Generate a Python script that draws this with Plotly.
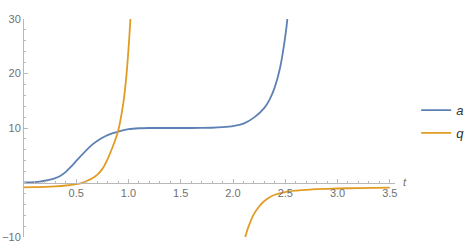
import plotly.graph_objects as go

# ---- data ----
t_a = [0.0, 0.1, 0.15, 0.2, 0.25, 0.3, 0.35, 0.4, 0.45, 0.5, 0.55, 0.6, 0.65, 0.7, 0.75,
       0.8, 0.85, 0.9, 1.0, 1.1, 1.2, 1.4, 1.6, 1.8, 1.9, 2.0, 2.1, 2.2, 2.3, 2.35, 2.4,
       2.45, 2.5, 2.52, 2.535]
a_vals = [0.0, 0.08, 0.17, 0.32, 0.52, 0.8, 1.25, 1.95, 2.9, 3.95, 5.0, 6.0, 6.9, 7.6,
          8.2, 8.7, 9.05, 9.35, 9.78, 9.95, 10.0, 10.0, 10.0, 10.05, 10.15, 10.35, 10.8,
          11.9, 13.7, 15.2, 17.5, 21.0, 26.8, 30.0, 34.0]

t_q1 = [0.0, 0.1, 0.2, 0.3, 0.4, 0.5, 0.55, 0.6, 0.65, 0.7, 0.75, 0.8, 0.85, 0.9,
        0.95, 0.98, 1.0, 1.02, 1.03]
q_vals1 = [-0.9, -0.86, -0.8, -0.7, -0.55, -0.3, -0.1, 0.28, 0.75, 1.4, 2.5, 4.3, 6.6,
           9.4, 14.5, 19.6, 24.5, 30.5, 34.0]

t_q2 = [2.105, 2.12, 2.15, 2.2, 2.25, 2.3, 2.35, 2.4, 2.5, 2.6, 2.7, 2.8, 3.0, 3.2, 3.5]
q_vals2 = [-11.0, -9.8, -8.0, -5.8, -4.4, -3.4, -2.7, -2.25, -1.75, -1.5, -1.35, -1.22,
           -1.1, -1.02, -0.95]

x_ticks = [0.5, 1.0, 1.5, 2.0, 2.5, 3.0, 3.5]
x_tick_labels = ["0.5", "1.0", "1.5", "2.0", "2.5", "3.0", "3.5"]
y_ticks = [-10, 10, 20, 30]
y_tick_labels = ["\u221210", "10", "20", "30"]

BLUE = "#5E81B5"
ORANGE = "#E19C24"
AXIS = "#b8b8b8"
LABEL = "#707070"
FONT = "Liberation Sans"

fig = go.Figure()
fig.add_trace(go.Scatter(x=t_a, y=a_vals, mode="lines", name="<i>a</i>",
                         line=dict(color=BLUE, width=1.8, shape="spline", smoothing=0.5),
                         legendgroup="a"))
fig.add_trace(go.Scatter(x=t_q1 + [None] + t_q2, y=q_vals1 + [None] + q_vals2,
                         mode="lines", name="<i>q</i>", connectgaps=False,
                         line=dict(color=ORANGE, width=1.8, shape="spline", smoothing=0.5),
                         legendgroup="q"))

fig.update_layout(
    width=469, height=245,
    margin=dict(l=24, r=74, t=19, b=8, autoexpand=False),
    paper_bgcolor="white", plot_bgcolor="white",
    font=dict(family=FONT, size=11, color=LABEL),
    showlegend=True,
    legend=dict(x=1.057, y=0.651, xref="paper", xanchor="left", yanchor="top",
                font=dict(family=FONT, size=13, color="#333333"),
                tracegroupgap=3, bgcolor="rgba(0,0,0,0)"),
    xaxis=dict(range=[0, 3.55], showgrid=False, zeroline=False, automargin=False,
               showline=True, linecolor=AXIS, linewidth=1,
               anchor="free", position=0.25,
               tickmode="array", tickvals=x_ticks, ticktext=x_tick_labels,
               ticks="inside", ticklen=4, tickcolor=AXIS, tickwidth=1,
               tickfont=dict(family=FONT, size=11, color=LABEL),
               minor=dict(tickmode="linear", tick0=0, dtick=0.1, ticks="inside",
                          ticklen=2, tickcolor=AXIS, tickwidth=1, showgrid=False)),
    yaxis=dict(range=[-10, 30], showgrid=False, zeroline=False, automargin=False,
               showline=True, linecolor=AXIS, linewidth=1,
               tickmode="array", tickvals=y_ticks, ticktext=y_tick_labels,
               ticks="inside", ticklen=4, tickcolor=AXIS, tickwidth=1,
               tickfont=dict(family=FONT, size=11, color=LABEL),
               minor=dict(tickmode="linear", tick0=0, dtick=2, ticks="inside",
                          ticklen=2, tickcolor=AXIS, tickwidth=1, showgrid=False)),
)

fig.add_annotation(x=1.0, y=0.25, xref="paper", yref="paper", text="<i>t</i>",
                   showarrow=False, xanchor="left", yanchor="middle", xshift=6, yshift=1,
                   font=dict(family=FONT, size=11, color=LABEL))

fig.write_html("out.html",
               config={"displayModeBar": False},
               post_script="document.body.style.margin='0';"
                           "document.body.style.overflow='hidden';")
